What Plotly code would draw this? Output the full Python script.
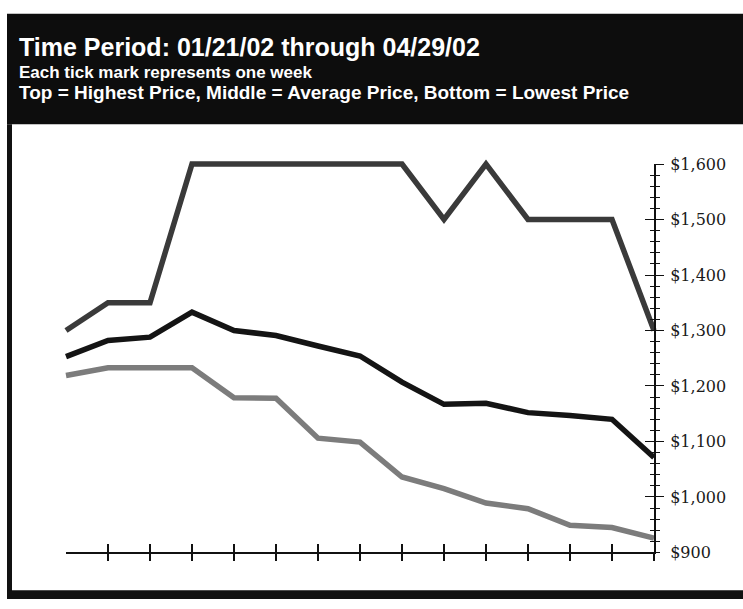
import plotly.graph_objects as go

# Weekly price series, 01/21/02 through 04/29/02 (15 weekly observations)
weeks = list(range(15))
highest = [1300, 1350, 1350, 1600, 1600, 1600, 1600, 1600, 1600, 1500, 1600, 1500, 1500, 1500, 1300]
average = [1253, 1282, 1288, 1333, 1300, 1291, 1272, 1254, 1207, 1167, 1169, 1152, 1147, 1140, 1071]
lowest = [1219, 1233, 1233, 1233, 1179, 1178, 1106, 1099, 1036, 1015, 989, 979, 949, 945, 926]

price_ticks = [900, 1000, 1100, 1200, 1300, 1400, 1500, 1600]
price_labels = ["$900", "$1,000", "$1,100", "$1,200", "$1,300", "$1,400", "$1,500", "$1,600"]
week_ticks = list(range(1, 15))

W, H = 743, 609


def px(x):
    return x / W


def py(y):
    return 1 - y / H


# Data axes extend a little past the frame axes so thick lines are not clipped
pad = 10
x_unit = (654 - 66) / 14.0
y_unit = (561 - 160) / 700.0
data_xrange = [-pad / x_unit, 14 + pad / x_unit]
data_yrange = [900 - pad / y_unit, 1600 + pad / y_unit]

fig = go.Figure()
series = [
    ("Highest", highest, "#3a3a3a"),
    ("Average", average, "#141414"),
    ("Lowest", lowest, "#7c7c7c"),
]
for name, vals, color in series:
    fig.add_trace(go.Scatter(
        x=weeks, y=vals, mode="lines", name=name,
        line=dict(color=color, width=5.5),
        xaxis="x", yaxis="y", showlegend=False, hoverinfo="skip",
    ))

frame_x = [px(66), px(654)]
frame_y = [py(561), py(160)]
axis_col = "#111111"

fig.update_layout(
    width=W, height=H,
    margin=dict(l=0, r=0, t=0, b=0),
    paper_bgcolor="white", plot_bgcolor="rgba(0,0,0,0)",
    showlegend=False,
    xaxis=dict(domain=[px(56), px(664)], range=data_xrange, visible=False, anchor="y"),
    yaxis=dict(domain=[py(571), py(150)], range=data_yrange, visible=False, anchor="x"),
    # week axis: ticks below and above the line
    xaxis2=dict(domain=frame_x, range=[0, 14], anchor="y2", showline=True,
                linecolor=axis_col, linewidth=1.6, ticks="outside", tickmode="array",
                tickvals=week_ticks, ticklen=7, tickwidth=1.6, tickcolor=axis_col,
                showticklabels=False, showgrid=False, zeroline=False),
    xaxis3=dict(overlaying="x2", range=[0, 14], anchor="y2", showline=False,
                ticks="inside", tickmode="array", tickvals=week_ticks[:-1], ticklen=8,
                tickwidth=1.6, tickcolor=axis_col, showticklabels=False,
                showgrid=False, zeroline=False),
    # price axis on the right: crossing major and minor ticks
    yaxis2=dict(domain=frame_y, range=[900, 1600], anchor="x2", side="right",
                showline=True, linecolor=axis_col, linewidth=1.6,
                ticks="outside", tickmode="array", tickvals=price_ticks[1:], ticklen=8,
                tickwidth=1.4, tickcolor=axis_col,
                minor=dict(dtick=20, tick0=900, ticks="outside", ticklen=4,
                           tickwidth=1.2, tickcolor=axis_col),
                showticklabels=False, showgrid=False, zeroline=False),
    yaxis3=dict(overlaying="y2", range=[900, 1600], anchor="x2", side="right",
                showline=False, ticks="inside", tickmode="array",
                tickvals=price_ticks[1:], ticklen=9, tickwidth=1.4, tickcolor=axis_col,
                minor=dict(dtick=20, tick0=900, ticks="inside", ticklen=4,
                           tickwidth=1.2, tickcolor=axis_col),
                showticklabels=False, showgrid=False, zeroline=False),
    yaxis4=dict(overlaying="y2", range=[900, 1600], anchor="x2", side="right",
                showline=False, ticks="outside", ticklen=12, tickcolor="rgba(0,0,0,0)",
                tickmode="array", tickvals=price_ticks, ticktext=price_labels,
                tickfont=dict(family="DejaVu Serif", size=16, color="#1a1a1a"),
                showgrid=False, zeroline=False),
)

# empty traces so the overlay axes are drawn
for xa, ya in [("x2", "y2"), ("x3", "y3"), ("x2", "y4")]:
    fig.add_trace(go.Scatter(x=[], y=[], xaxis=xa, yaxis=ya, showlegend=False,
                             hoverinfo="skip"))

# Header band and frame
shapes = [
    dict(type="rect", xref="paper", yref="paper", x0=px(7), x1=px(743), y0=py(119), y1=py(5),
         fillcolor="#0d0d0d", line=dict(width=0), layer="below"),
    dict(type="rect", xref="paper", yref="paper", x0=px(7), x1=px(12), y0=py(604), y1=py(119),
         fillcolor="#111111", line=dict(width=0), layer="below"),
    dict(type="rect", xref="paper", yref="paper", x0=px(7), x1=px(743), y0=py(609), y1=py(600),
         fillcolor="#111111", line=dict(width=0), layer="below"),
]
fig.update_layout(shapes=shapes)

head_font = "Liberation Sans, Arial"
annotations = [
    dict(text="<b>Time Period: 01/21/02 through 04/29/02</b>", x=px(17), y=py(39),
         size=25),
    dict(text="<b>Each tick mark represents one week</b>", x=px(17), y=py(66), size=17),
    dict(text="<b>Top = Highest Price, Middle = Average Price, Bottom = Lowest Price</b>",
         x=px(17), y=py(86), size=19),
]
for a in annotations:
    fig.add_annotation(text=a["text"], x=a["x"], y=a["y"], xref="paper", yref="paper",
                       xanchor="left", yanchor="middle", showarrow=False,
                       font=dict(family=head_font, size=a["size"], color="white"))

fig.write_html("out.html")
